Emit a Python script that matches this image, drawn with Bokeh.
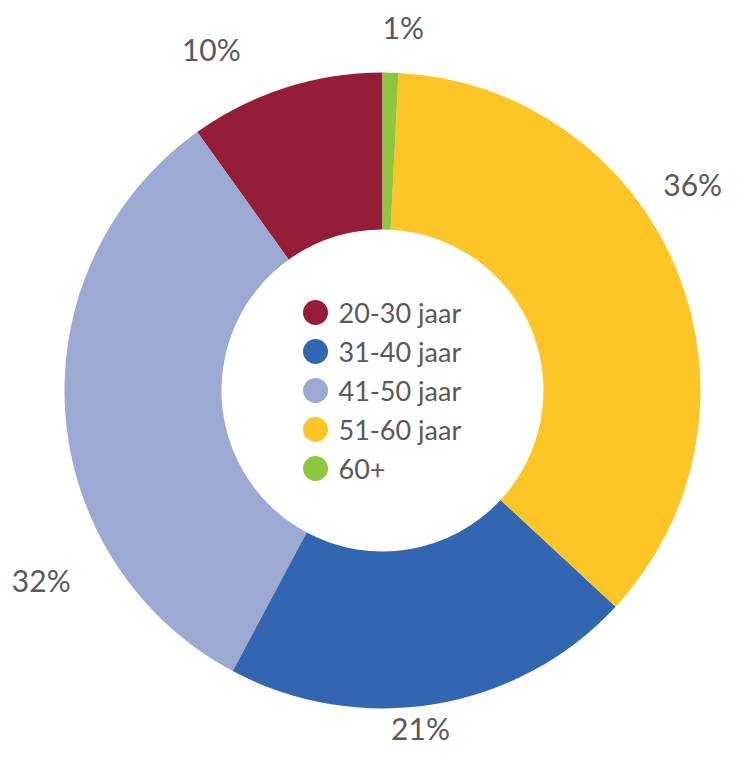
import math
from bokeh.plotting import figure
from bokeh.models import Range1d, ColumnDataSource
from bokeh.core.properties import value
from bokeh.embed import file_html
from bokeh.resources import INLINE

# ---- data ----
categories = ["20-30 jaar", "31-40 jaar", "41-50 jaar", "51-60 jaar", "60+"]
shares = [9.9, 20.9, 32.3, 36.1, 0.8]          # percent
colors = ["#951D38", "#3366B1", "#9BA9D3", "#FDC525", "#8DC63F"]
# drawing order around the ring (counter-clockwise from the top)
draw_order = ["20-30 jaar", "41-50 jaar", "31-40 jaar", "51-60 jaar", "60+"]

# ---- layout / style ----
W, H = 723, 751
TOP = 767                  # data y of the picture's top edge
CX, CY = 382, 377          # data coords (1 unit = 1 px)
R_OUT, R_IN = 318, 161
LABEL_R = 350
TEXT_COLOR = "#595959"
FONT = "Lato"
# per-label nudges (screen px) relative to mid-angle position
label_nudge = {
    "20-30 jaar": (-64, -8),
    "60+": (12, -14),
    "51-60 jaar": (-14, -75),
    "31-40 jaar": (-20, -8),
    "41-50 jaar": (8, 166),
}

p = figure(width=W, height=H, output_backend="svg", toolbar_location=None,
           x_range=Range1d(0, W), y_range=Range1d(TOP - H, TOP),
           min_border=0, outline_line_color=None)
p.axis.visible = False
p.grid.visible = False
p.background_fill_color = "white"
p.border_fill_color = "white"

share_of = dict(zip(categories, shares))
color_of = dict(zip(categories, colors))

starts, ends, cols, lx, ly, ltxt, xo, yo = [], [], [], [], [], [], [], []
total = sum(shares)
a = math.pi / 2
for c in draw_order:
    span = share_of[c] / total * 2 * math.pi
    starts.append(a)
    ends.append(a + span)
    cols.append(color_of[c])
    mid = a + span / 2
    lx.append(CX + LABEL_R * math.cos(mid))
    ly.append(CY + LABEL_R * math.sin(mid))
    ltxt.append(f"{round(share_of[c])}%")
    xo.append(label_nudge[c][0])
    yo.append(label_nudge[c][1])
    a += span

src = ColumnDataSource(dict(start=starts, end=ends, color=cols))
p.annular_wedge(x=CX, y=CY, inner_radius=R_IN, outer_radius=R_OUT,
                start_angle="start", end_angle="end", direction="anticlock",
                fill_color="color", line_color=None, source=src)

lsrc = ColumnDataSource(dict(x=lx, y=ly, t=ltxt, xo=xo, yo=yo))
p.text(x="x", y="y", text="t", x_offset="xo", y_offset="yo", source=lsrc,
       text_font=value(FONT), text_font_size="30px", text_color=TEXT_COLOR,
       text_align="center", text_baseline="middle")

# legend in the centre hole
LEG_X, LEG_Y0, LEG_DY = 315, TOP - 312, 39
leg_y = [LEG_Y0 - i * LEG_DY for i in range(len(categories))]
p.scatter(x=[LEG_X] * len(categories), y=leg_y, size=25, marker="circle",
          fill_color=colors, line_color=None)
p.text(x=[LEG_X + 23] * len(categories), y=leg_y, text=categories,
       text_font=value(FONT), text_font_size="27px", text_color=TEXT_COLOR,
       text_align="left", text_baseline="middle")

open("out.html", "w").write(file_html(p, INLINE))
